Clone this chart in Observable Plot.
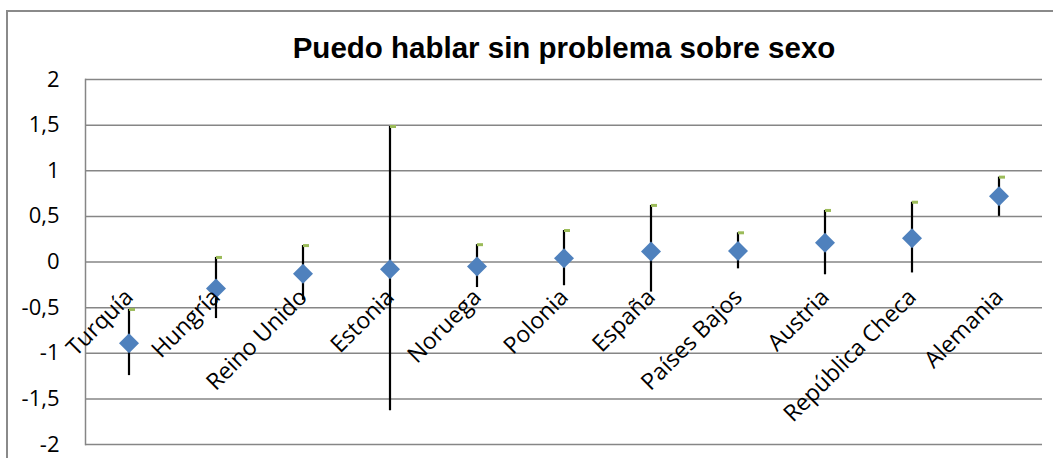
<!DOCTYPE html>
<html><head><meta charset="utf-8">
<script src="https://cdn.jsdelivr.net/npm/d3@7"></script>
<script src="https://cdn.jsdelivr.net/npm/@observablehq/plot@0.6"></script>
<style>
html,body{margin:0;padding:0;background:#fff;}
#wrap{position:relative;width:1053px;height:458px;overflow:hidden;}
#border{position:absolute;left:6px;top:10px;width:1060px;height:470px;border:2px solid #8a8a8a;box-sizing:border-box;}
#chart{position:absolute;left:0;top:0;}
</style></head>
<body><div id="wrap"><div id="border"></div><div id="chart"></div></div>
<script>
const title = "Puedo hablar sin problema sobre sexo";
const countries = ["Turquía","Hungría","Reino Unido","Estonia","Noruega","Polonia","España","Países Bajos","Austria","República Checa","Alemania"];
const means = [-0.89,-0.29,-0.13,-0.08,-0.05,0.04,0.115,0.12,0.21,0.26,0.72];
const highs = [-0.52,0.05,0.18,1.485,0.19,0.345,0.62,0.32,0.565,0.655,0.93];
const lows  = [-1.245,-0.62,-0.42,-1.63,-0.28,-0.26,-0.33,-0.075,-0.14,-0.12,0.50];
const yTicks = [-2,-1.5,-1,-0.5,0,0.5,1,1.5,2];

const data = countries.map((c,i)=>({country:c, mean:means[i], hi:highs[i], lo:lows[i]}));
const dash = {draw(ctx, size){ ctx.rect(0,-1.5,6,3); }};
const font = "'Open Sans', sans-serif";

const chart = Plot.plot({
  width:1053, height:458,
  marginLeft:85, marginRight:11, marginTop:79, marginBottom:14,
  style:{fontFamily:font, fontSize:"22px", background:"transparent", color:"#000"},
  x:{type:"band", domain:countries, padding:0, axis:null},
  y:{domain:[-2,2], axis:null},
  marks:[
    Plot.gridY(yTicks, {stroke:"#868686", strokeOpacity:1, strokeWidth:1.5}),
    Plot.frame({anchor:"left", stroke:"#868686", strokeWidth:1.5}),
    Plot.axisY(yTicks, {tickSize:0, tickPadding:26, tickFormat:d=>String(d).replace(".",","), fontSize:22, fill:"#000"}),
    Plot.ruleX(data, {x:"country", y1:"lo", y2:"hi", stroke:"#000", strokeWidth:2.2}),
    Plot.dot(data, {x:"country", y:"hi", symbol:dash, r:3, fill:"#9BBB59", stroke:null}),
    Plot.dot(data, {x:"country", y:"mean", symbol:"diamond2", r:9, fill:"#4F81BD", stroke:null}),
    Plot.text(countries, {x:d=>d, y:()=>0, text:d=>d, rotate:-45, textAnchor:"end", lineAnchor:"top", dx:-6, dy:25, fontSize:23, fill:"#000"}),
    Plot.text([title], {frameAnchor:"top", dy:-31, fontFamily:"'Liberation Sans', Arial, sans-serif", fontWeight:"bold", fontSize:29.5, fill:"#000", lineAnchor:"middle"})
  ]
});
document.getElementById("chart").appendChild(chart);
</script></body></html>
